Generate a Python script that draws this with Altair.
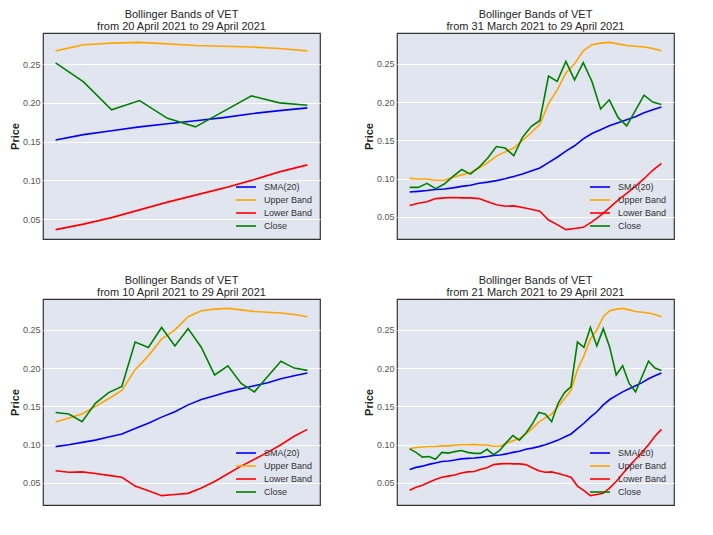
import altair as alt
import pandas as pd

# 40 daily values, 21 March 2021 .. 29 April 2021 (VET)
close = [0.0946, 0.090, 0.0838, 0.0846, 0.081, 0.090, 0.089, 0.091, 0.0924, 0.090,
         0.0887, 0.0887, 0.094, 0.087, 0.093, 0.103, 0.112, 0.106, 0.115, 0.127,
         0.142, 0.140, 0.130, 0.154, 0.168, 0.176, 0.234, 0.227, 0.253, 0.229,
         0.2515, 0.227, 0.191, 0.203, 0.180, 0.169, 0.189, 0.209, 0.200, 0.197]
upper = [0.0946, 0.0963, 0.097, 0.0976, 0.0976, 0.0985, 0.0985, 0.0993, 0.100, 0.100,
         0.1004, 0.0996, 0.0996, 0.098, 0.098, 0.102, 0.105, 0.108, 0.114, 0.121,
         0.1295, 0.135, 0.140, 0.150, 0.160, 0.171, 0.198, 0.216, 0.238, 0.250,
         0.267, 0.275, 0.277, 0.278, 0.276, 0.274, 0.273, 0.272, 0.270, 0.267]
lower = [0.0405, 0.0445, 0.047, 0.051, 0.0545, 0.0575, 0.059, 0.0605, 0.063, 0.0645,
         0.065, 0.068, 0.070, 0.074, 0.075, 0.0755, 0.075, 0.075, 0.074, 0.070,
         0.066, 0.064, 0.0645, 0.0625, 0.060, 0.0575, 0.046, 0.040, 0.0335, 0.035,
         0.0365, 0.0436, 0.052, 0.062, 0.072, 0.081, 0.090, 0.100, 0.111, 0.120]
sma = [0.0676, 0.0704, 0.072, 0.0743, 0.076, 0.078, 0.0788, 0.080, 0.0815, 0.0822,
       0.0827, 0.0835, 0.0845, 0.086, 0.0865, 0.088, 0.090, 0.0915, 0.094, 0.0955,
       0.0975, 0.100, 0.103, 0.106, 0.110, 0.114, 0.121, 0.128, 0.136, 0.143,
       0.152, 0.159, 0.164, 0.169, 0.173, 0.177, 0.181, 0.186, 0.190, 0.1935]

series_names = ["SMA(20)", "Upper Band", "Lower Band", "Close"]
series_colors = ["#0000ff", "#ffa500", "#ff0000", "#008000"]
panel_sizes = [10, 30, 20, 40]
panel_starts = ["20 April 2021", "31 March 2021", "10 April 2021", "21 March 2021"]
end_label = "29 April 2021"
y_ticks = [0.05, 0.10, 0.15, 0.20, 0.25]

FONT = "Liberation Sans"
W, H = 277, 206


def panel(n, start):
    rows = []
    for name, vals in zip(series_names, [sma, upper, lower, close]):
        for i, v in enumerate(vals[-n:]):
            rows.append({"i": i, "value": v, "series": name})
    df = pd.DataFrame(rows)
    lo, hi = df["value"].min(), df["value"].max()
    pad = 0.05 * (hi - lo)
    xpad = 0.05 * (n - 1)
    return alt.Chart(df).mark_line(strokeWidth=1.6).encode(
        x=alt.X("i:Q", axis=None,
                scale=alt.Scale(domain=[-xpad, n - 1 + xpad], nice=False, zero=False)),
        y=alt.Y("value:Q",
                scale=alt.Scale(domain=[lo - pad, hi + pad], nice=False, zero=False),
                axis=alt.Axis(title="Price", values=y_ticks, format=".2f")),
        color=alt.Color("series:N",
                        scale=alt.Scale(domain=series_names, range=series_colors),
                        legend=alt.Legend(title=None, orient="none", legendX=197, legendY=148,
                                          symbolType="M-2,0H2", symbolSize=100,
                                          symbolStrokeWidth=1.6, labelFontSize=9,
                                          labelColor="#333333", labelFont=FONT,
                                          rowPadding=2, labelOffset=12, padding=0)),
    ).properties(
        width=W, height=H,
        title=alt.TitleParams(text=["Bollinger Bands of VET", f"from {start} to {end_label}"],
                              fontSize=11, font=FONT, fontWeight="normal", color="#262626",
                              offset=1, lineHeight=12, anchor="middle"),
    )


panels = [panel(n, s) for n, s in zip(panel_sizes, panel_starts)]

chart = alt.concat(*panels, columns=2, spacing={"row": 34, "column": 41}).resolve_scale(
    color="independent", x="independent", y="independent"
).resolve_legend(color="independent").properties(
    padding={"left": 0, "top": 0, "right": 0, "bottom": 0}
).configure_view(
    fill="#e1e5ef", stroke="#333333", strokeWidth=1.2
).configure_axis(
    grid=True, gridColor="white", gridWidth=1, domain=False, ticks=False,
    labelFontSize=9, labelColor="#555555", labelFont=FONT, labelPadding=3,
    titleFont=FONT, titleFontSize=11, titleFontWeight="bold", titleColor="#222222",
    titlePadding=2,
)

chart.save("out.html", embed_options={"renderer": "svg", "actions": False})
